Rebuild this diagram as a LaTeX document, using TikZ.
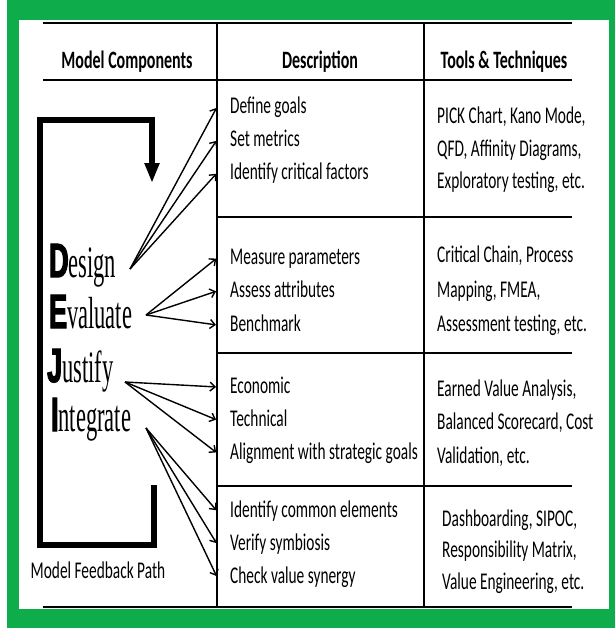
\documentclass[tikz,border=0pt]{standalone}
\usepackage{fontspec}
\setmainfont[FakeStretch=0.64]{Carlito}
\newfontfamily\dejiserif[FakeStretch=0.5]{Liberation Serif}
\newfontfamily\dejisans[FakeStretch=0.56,FakeBold=2.5]{Liberation Sans}
\usetikzlibrary{arrows.meta}
\definecolor{framegreen}{RGB}{14,172,74}
\newcommand{\dejiword}[2]{{\dejisans\bfseries\fontsize{48}{48}\selectfont #1}{\dejiserif\fontsize{45}{45}\selectfont #2}}
\tikzset{
  headtext/.style={anchor=base,inner sep=0pt,font=\bfseries\fontsize{25}{25}\selectfont},
  desctext/.style={anchor=base west,inner xsep=13pt,inner ysep=0pt,
                   text height=17pt,text depth=5pt,font=\fontsize{24}{24}\selectfont},
  tooltext/.style={anchor=base west,inner sep=0pt,font=\fontsize{24}{24}\selectfont},
  wordnode/.style={anchor=base west,inner sep=0pt},
  tablerule/.style={line width=2.4pt},
  link/.style={-{Straight Barb[length=5pt,width=9pt]},line width=1.4pt,shorten >=1pt},
}

\begin{document}
\begin{tikzpicture}[x=1pt,y=-1pt]

		\useasboundingbox (0,0) rectangle (615,630);
		\fill[white] (0,0) rectangle (615,630);
		\fill[framegreen] (7,0) rectangle (615,628);
		\fill[white] (19,20) rectangle (609,609);

		% table rules
		\draw[tablerule] (43,23) -- (572,23);
		\draw[tablerule] (43,80) -- (572,80);
		\foreach \y in {217,353,486}
			\draw[tablerule] (217,\y) -- (572,\y);
		\draw[tablerule] (43,607) -- (572,607);
		\draw[line width=2pt] (217,23) -- (217,607);
		\draw[line width=2pt] (424,23) -- (424,607);

		% headers
		\node[headtext] (hmodel) at (127,68) {Model Components};
		\node[headtext] (hdesc) at (320,68) {Description};
		\node[headtext] (htools) at (504,68) {Tools \& Techniques};

		% model components
		\node[wordnode] (design) at (49,277) {\dejiword{D}{esign}};
		\node[wordnode] (evaluate) at (49,328) {\dejiword{E}{valuate}};
		\node[wordnode] (justify) at (47,382) {\dejiword{J}{ustify}};
		\node[wordnode] (integrate) at (51,431) {\dejiword{I}{ntegrate}};
		\coordinate (design-out) at (130,269);
		\coordinate (evaluate-out) at (146,315);
		\coordinate (justify-out) at (125,382);
		\coordinate (integrate-out) at (146,428);

		% feedback path
		\draw[line width=5.5pt,-{Triangle[width=14pt,length=20pt]}]
		(154,485) -- (154,545) -- (40,545) -- (40,120) -- (152,120) -- (152,183);
		\node[tooltext,anchor=base] (feedback) at (98,578) {Model Feedback Path};

		% descriptions
		\node[desctext] (d11) at (217,113) {Define goals};
		\node[desctext] (d12) at (217,146) {Set metrics};
		\node[desctext] (d13) at (217,179) {Identify critical factors};
		\node[desctext] (d21) at (217,264) {Measure parameters};
		\node[desctext] (d22) at (217,297) {Assess attributes};
		\node[desctext] (d23) at (217,331) {Benchmark};
		\node[desctext] (d31) at (217,393) {Economic};
		\node[desctext] (d32) at (217,426) {Technical};
		\node[desctext] (d33) at (217,459) {Alignment with strategic goals};
		\node[desctext] (d41) at (217,517) {Identify common elements};
		\node[desctext] (d42) at (217,550) {Verify symbiosis};
		\node[desctext] (d43) at (217,583) {Check value synergy};

		% tools and techniques
		\node[tooltext] (t11) at (437,123) {PICK Chart, Kano Mode,};
		\node[tooltext] (t12) at (437,156) {QFD, Affinity Diagrams,};
		\node[tooltext] (t13) at (437,188) {Exploratory testing, etc.};
		\node[tooltext] (t21) at (437,262) {Critical Chain, Process};
		\node[tooltext] (t22) at (437,297) {Mapping, FMEA,};
		\node[tooltext] (t23) at (437,331) {Assessment testing, etc.};
		\node[tooltext] (t31) at (437,396) {Earned Value Analysis,};
		\node[tooltext] (t32) at (437,429) {Balanced Scorecard, Cost};
		\node[tooltext] (t33) at (437,463) {Validation, etc.};
		\node[tooltext] (t41) at (442,526) {Dashboarding, SIPOC,};
		\node[tooltext] (t42) at (442,557) {Responsibility Matrix,};
		\node[tooltext] (t43) at (442,589) {Value Engineering, etc.};

		% links
		\foreach \i in {1,2,3}{
			\draw[link] (design-out) -- (d1\i.west);
			\draw[link] (evaluate-out) -- (d2\i.west);
			\draw[link] (justify-out) -- (d3\i.west);
			\draw[link] (integrate-out) -- (d4\i.west);
		}

\end{tikzpicture}
\end{document}
